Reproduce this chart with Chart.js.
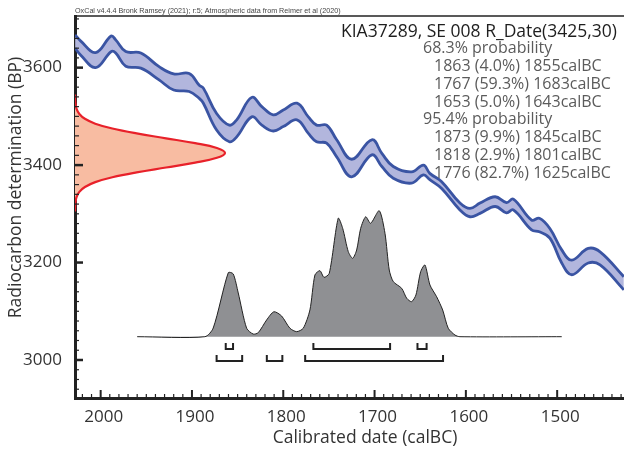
<!DOCTYPE html>
<html>
<head>
<meta charset="utf-8">
<script src="https://cdn.jsdelivr.net/npm/chart.js@4.4.0/dist/chart.umd.min.js"></script>
<style>
  html, body { margin: 0; padding: 0; background: #fff; }
  #wrap { width: 624px; height: 450px; }
</style>
</head>
<body>
<div id="wrap"><canvas id="calib-chart" width="624" height="450"></canvas></div>
<script>
// AXIS LABELS
const xLabels = [2000, 1900, 1800, 1700, 1600, 1500];
const yLabels = [3000, 3200, 3400, 3600];

// CALIBRATION CURVE (IntCal20 band, BP)
const curveYear  = [2028, 2022, 2005.5, 1988.5, 1983.5, 1972.5, 1956, 1936, 1920, 1903, 1892, 1887.5,
                    1873, 1859, 1851, 1834.5, 1823.5, 1811, 1800, 1785, 1772.5, 1763.5, 1752.5, 1741.5,
                    1725, 1703, 1692, 1679.5, 1659.5, 1646.5, 1639.5, 1626.5, 1606.5, 1595.5, 1584.5, 1568,
                    1555.5, 1548, 1528, 1519.5, 1508, 1495, 1484, 1466, 1453, 1427];
const curveUpper = [3667, 3655, 3631, 3665, 3657, 3633, 3630, 3602, 3587, 3588, 3564, 3558,
                    3506, 3482, 3493, 3539, 3520, 3503, 3513, 3527, 3499, 3482, 3482, 3452,
                    3412, 3452, 3424, 3397, 3386, 3400, 3383, 3366, 3322, 3311, 3322, 3335,
                    3323, 3330, 3287, 3291, 3270, 3226, 3205, 3229, 3222, 3171];
const curveLower = [3640, 3626, 3600, 3633, 3630, 3603, 3599, 3575, 3554, 3551, 3537, 3527,
                    3472, 3448, 3458, 3499, 3482, 3470, 3479, 3493, 3465, 3448, 3445, 3417,
                    3376, 3421, 3397, 3373, 3363, 3380, 3370, 3352, 3308, 3294, 3301, 3315,
                    3302, 3308, 3267, 3263, 3250, 3199, 3175, 3199, 3195, 3144];

// R_Date(3425,30) on the radiocarbon axis (relative density)
const rDateBP      = [3545, 3535, 3525, 3515, 3505, 3495, 3485, 3475, 3465, 3455, 3445, 3435, 3425,
                      3415, 3405, 3395, 3385, 3375, 3365, 3355, 3345, 3335, 3325, 3315, 3305];
const rDateDensity = [0, 0.001, 0.004, 0.011, 0.029, 0.066, 0.135, 0.249, 0.411, 0.607, 0.801, 0.946, 1,
                      0.946, 0.801, 0.607, 0.411, 0.249, 0.135, 0.066, 0.029, 0.011, 0.004, 0.001, 0];

// Calibrated probability (relative)
const probYear  = [1960, 1885.8, 1876.7, 1860.2, 1854.8, 1849.3, 1840.1, 1832.9, 1827.4, 1818.2, 1810.2,
                   1801.8, 1792.7, 1785.3, 1778.1, 1770.8, 1765.3, 1759.8, 1755.4, 1749.6, 1739.8, 1734.9,
                   1728.8, 1724, 1719.6, 1715.2, 1709.7, 1704.3, 1694.9, 1688.6, 1683.9, 1679.5, 1670.3,
                   1664.8, 1659.4, 1654.7, 1649.5, 1644.8, 1639.3, 1632, 1625.4, 1619.3, 1611.9, 1606.5, 1495];
const probValue = [0, 0, 0.069, 0.508, 0.498, 0.347, 0.067, 0.021, 0.032, 0.133, 0.198,
                   0.164, 0.067, 0.040, 0.067, 0.212, 0.490, 0.524, 0.471, 0.503, 0.940, 0.860,
                   0.675, 0.622, 0.688, 0.860, 0.952, 0.900, 1.0, 0.821, 0.529, 0.437, 0.384,
                   0.305, 0.278, 0.331, 0.516, 0.569, 0.410, 0.317, 0.212, 0.067, 0.013, 0, 0];

// Ranges (calBC)
const range68 = [[1863, 1855], [1767, 1683], [1653, 1643]];
const range95 = [[1873, 1845], [1818, 1801], [1776, 1625]];

const headerText = 'OxCal v4.4.4 Bronk Ramsey (2021); r:5; Atmospheric data from Reimer et al (2020)';
const titleText = 'KIA37289, SE 008 R_Date(3425,30)';
const summaryLines = [
    ['68.3% probability', false],
    ['1863 (4.0%) 1855calBC', true],
    ['1767 (59.3%) 1683calBC', true],
    ['1653 (5.0%) 1643calBC', true],
    ['95.4% probability', false],
    ['1873 (9.9%) 1845calBC', true],
    ['1818 (2.9%) 1801calBC', true],
    ['1776 (82.7%) 1625calBC', true]
];

// build bracket polylines, gaps between ranges
function bracketPoints(ranges, lineY, hookY) {
    const pts = [];
    ranges.forEach(r => {
        pts.push({x: r[0], y: hookY}, {x: r[0], y: lineY}, {x: r[1], y: lineY}, {x: r[1], y: hookY});
        pts.push({x: r[1], y: null});
    });
    return pts;
}

const FONT = '"Open Sans", "Noto Sans", sans-serif';

// ticks, frame and texts
const oxcalDecor = {
    id: 'oxcalDecor',
    afterDraw(chart) {
        const ctx = chart.ctx;
        const a = chart.chartArea;
        const xs = chart.scales.x;
        const ys = chart.scales.y;
        ctx.save();
        ctx.strokeStyle = '#222';

        // top frame
        ctx.lineWidth = 1.5;
        ctx.beginPath();
        ctx.moveTo(a.left, a.top);
        ctx.lineTo(a.right, a.top);
        ctx.stroke();

        // inward ticks
        for (let v = Math.ceil(xs.min / 10) * 10; v <= xs.max; v += 10) {
            const px = xs.getPixelForValue(v);
            const major = v % 100 === 0;
            ctx.lineWidth = major ? 2 : 1.2;
            ctx.beginPath();
            ctx.moveTo(px, a.bottom);
            ctx.lineTo(px, a.bottom - (major ? 8 : 4));
            ctx.stroke();
        }
        for (let v = Math.ceil(ys.min / 20) * 20; v <= ys.max; v += 20) {
            const py = ys.getPixelForValue(v);
            const major = v % 200 === 0;
            ctx.lineWidth = major ? 2.5 : 1.2;
            ctx.beginPath();
            ctx.moveTo(a.left, py);
            ctx.lineTo(a.left + (major ? 8 : 4), py);
            ctx.stroke();
        }

        // header
        ctx.fillStyle = '#444';
        ctx.font = '7.2px "Liberation Sans", Arial, sans-serif';
        ctx.textAlign = 'left';
        ctx.textBaseline = 'alphabetic';
        ctx.fillText(headerText, a.left, 13);

        // title + summary
        ctx.fillStyle = '#1e1e1e';
        ctx.font = '17.5px ' + FONT;
        ctx.textAlign = 'right';
        ctx.textBaseline = 'middle';
        ctx.fillText(titleText, 617, 32);
        ctx.fillStyle = '#5b5b5b';
        ctx.font = '16px ' + FONT;
        ctx.textAlign = 'left';
        summaryLines.forEach((l, i) => {
            ctx.fillText(l[0], l[1] ? 434 : 423, 48.3 + i * 17.9);
        });

        // axis titles
        ctx.fillStyle = '#333';
        ctx.font = '17.5px ' + FONT;
        ctx.textAlign = 'center';
        ctx.fillText('Calibrated date (calBC)', 365, 438);
        ctx.translate(16, 187.5);
        ctx.rotate(-Math.PI / 2);
        ctx.fillText('Radiocarbon determination (BP)', 0, 0);
        ctx.restore();
    }
};

var calibChart;
function loadCalibChart() {
    var canvas = document.getElementById('calib-chart');
    var context = canvas.getContext('2d');
    calibChart = new Chart(context, {
        type: 'line',
        data: {
            datasets: [
                {
                    // upper edge of curve, filled down to lower edge
                    data: curveYear.map((v, i) => ({x: v, y: curveUpper[i]})),
                    borderColor: '#3a54a3',
                    backgroundColor: '#b2b6dd',
                    borderWidth: 2.8,
                    fill: '+1',
                    tension: 0.4
                },
                {
                    data: curveYear.map((v, i) => ({x: v, y: curveLower[i]})),
                    borderColor: '#3a54a3',
                    borderWidth: 2.8,
                    fill: false,
                    tension: 0.4
                },
                {
                    // radiocarbon measurement
                    data: rDateBP.map((v, i) => ({x: rDateDensity[i], y: v})),
                    xAxisID: 'xg',
                    borderColor: '#e8212a',
                    backgroundColor: '#f8bca2',
                    borderWidth: 2.2,
                    fill: 'shape',
                    tension: 0.4
                },
                {
                    // calibrated distribution
                    data: probYear.map((v, i) => ({x: v, y: probValue[i]})),
                    yAxisID: 'yp',
                    borderColor: '#222',
                    backgroundColor: '#8f9093',
                    borderWidth: 1,
                    fill: 'origin',
                    tension: 0.25
                },
                {
                    data: bracketPoints(range68, -0.098, -0.05),
                    yAxisID: 'yp',
                    borderColor: '#222',
                    borderWidth: 2,
                    fill: false,
                    spanGaps: false,
                    tension: 0
                },
                {
                    data: bracketPoints(range95, -0.193, -0.145),
                    yAxisID: 'yp',
                    borderColor: '#222',
                    borderWidth: 2,
                    fill: false,
                    spanGaps: false,
                    tension: 0
                }
            ]
        },
        options: {
            responsive: false,
            animation: false,
            events: [],
            layout: { padding: { top: 16, right: 0, left: 0, bottom: 0 } },
            elements: { point: { radius: 0 } },
            plugins: {
                legend: { display: false },
                tooltip: { enabled: false },
                filler: { drawTime: 'beforeDatasetsDraw' }
            },
            scales: {
                x: {
                    type: 'linear',
                    reverse: true,
                    min: 1426.8,
                    max: 2028.1,
                    grid: { display: false },
                    border: { display: true, color: '#222', width: 3 },
                    afterBuildTicks: s => { s.ticks = xLabels.map(v => ({ value: v })); },
                    afterFit: s => { s.height = 52; },
                    ticks: {
                        color: '#333',
                        padding: 1,
                        labelOffset: 3,
                        maxRotation: 0,
                        font: { family: FONT, size: 17 },
                        callback: v => String(v)
                    }
                },
                y: {
                    type: 'linear',
                    min: 2922,
                    max: 3706,
                    grid: { display: false },
                    border: { display: true, color: '#222', width: 3 },
                    afterBuildTicks: s => { s.ticks = yLabels.map(v => ({ value: v })); },
                    afterFit: s => { s.width = 75; },
                    ticks: {
                        color: '#333',
                        padding: 5,
                        font: { family: FONT, size: 17 },
                        callback: v => String(v)
                    }
                },
                xg: { axis: 'x', type: 'linear', display: false, min: 0, max: 3.66 },
                yp: { axis: 'y', type: 'linear', display: false, min: -0.4865, max: 2.545 }
            }
        },
        plugins: [oxcalDecor]
    });
}

loadCalibChart();
</script>
</body>
</html>
